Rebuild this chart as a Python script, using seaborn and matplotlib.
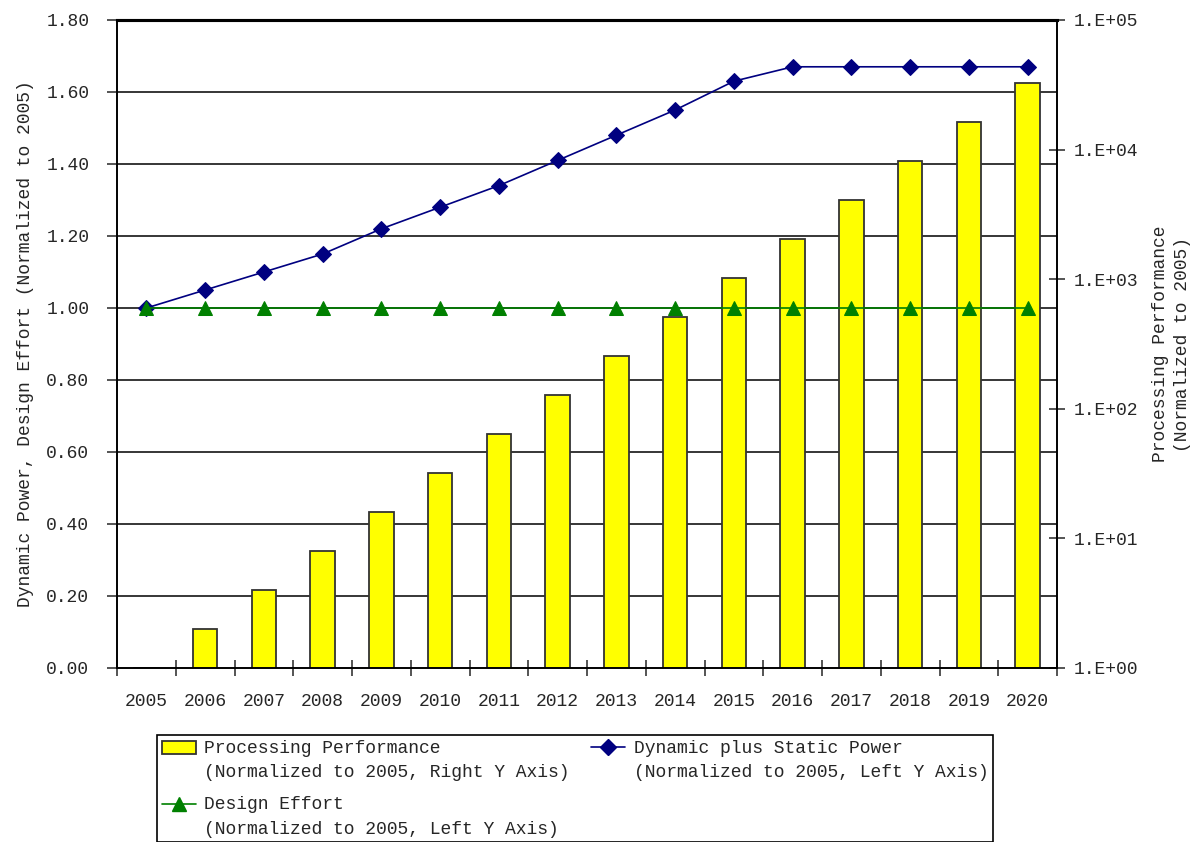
import matplotlib.pyplot as plt
import matplotlib.ticker as mticker
import matplotlib.transforms as mtransforms
from matplotlib.legend_handler import HandlerLine2D, HandlerPatch
from matplotlib.lines import Line2D
from matplotlib.patches import Patch
import numpy as np
import seaborn as sns

# ---------------- data ----------------
years = ['2005', '2006', '2007', '2008', '2009', '2010', '2011', '2012',
         '2013', '2014', '2015', '2016', '2017', '2018', '2019', '2020']
performance = [1, 2, 4, 8, 16, 32, 64, 128, 256, 512, 1024, 2048, 4096, 8192, 16384, 32768]
power = [1.00, 1.05, 1.10, 1.15, 1.22, 1.28, 1.34, 1.41, 1.48, 1.55, 1.63, 1.67, 1.67, 1.67, 1.67, 1.67]
effort = [1.00, 1.00, 1.00, 1.00, 1.00, 1.00, 1.00, 1.00, 1.00, 1.00, 1.00, 1.00, 1.00, 1.00, 1.00, 1.00]
left_ticks = [0.0, 0.2, 0.4, 0.6, 0.8, 1.0, 1.2, 1.4, 1.6, 1.8]
right_ticks = [1, 10, 100, 1000, 10000, 100000]

label_perf = "Processing Performance\n(Normalized to 2005, Right Y Axis)"
label_power = "Dynamic plus Static Power\n(Normalized to 2005, Left Y Axis)"
label_effort = "Design Effort\n(Normalized to 2005, Left Y Axis)"


# legend handles sit next to the first line of the two-line labels
class FirstLinePatch(HandlerPatch):
    def create_artists(self, legend, orig_handle, xdescent, ydescent, width, height, fontsize, trans):
        return super().create_artists(legend, orig_handle, xdescent, ydescent - 0.72 * fontsize,
                                      width, height, fontsize, trans)


class FirstLineLine(HandlerLine2D):
    def create_artists(self, legend, orig_handle, xdescent, ydescent, width, height, fontsize, trans):
        return super().create_artists(legend, orig_handle, xdescent, ydescent - 1.44 * fontsize,
                                      width, height, fontsize, trans)


sns.set_style("ticks")
plt.rcParams['font.family'] = ['Liberation Mono', 'DejaVu Sans']
fs = 13

W, H = 1194, 842
fig = plt.figure(figsize=(W / 100, H / 100), dpi=100)
ax_bar = fig.add_axes([117 / W, 1 - 668 / H, 940 / W, 648 / H])
ax_bar.set_yscale('log')

# bars (right, log axis)
sns.barplot(x=years, y=performance, color='#FFFF00', saturation=1, edgecolor='#333333',
            linewidth=1.3, width=0.42, errorbar=None, ax=ax_bar, zorder=2)
ax_bar.set_ylim(1, 1e5)
ax_bar.set_xlim(-0.5, len(years) - 0.5)

# lines (left, linear axis) on a twin drawn above the bars
ax_line = ax_bar.twinx()
ax_line.set_ylim(0, 1.8)
pos = np.arange(len(years))
sns.lineplot(x=pos, y=power, color='#000080', linewidth=1.2, marker='D', markersize=8,
             markeredgecolor='#000080', ax=ax_line)
sns.lineplot(x=pos, y=effort, color='#008000', linewidth=1.2, marker='^', markersize=10,
             markeredgecolor='#008000', ax=ax_line)
if ax_line.get_legend() is not None:
    ax_line.get_legend().remove()

# horizontal grid of the left axis, drawn behind the bars
blend = mtransforms.blended_transform_factory(ax_bar.transAxes, ax_line.transData)
for v in left_ticks[1:-1]:
    ax_bar.plot([0, 1], [v, v], transform=blend, color='black', linewidth=1.1, zorder=0.5)

# swap sides: linear axis left, log axis right
ax_line.yaxis.tick_left()
ax_line.yaxis.set_label_position('left')
ax_bar.yaxis.tick_right()
ax_bar.yaxis.set_label_position('right')

ax_line.set_yticks(left_ticks)
ax_line.yaxis.set_major_formatter(mticker.FormatStrFormatter('%.2f'))
ax_line.tick_params(axis='y', direction='out', length=7, width=1.1, pad=13, labelsize=fs)

ax_bar.set_yticks(right_ticks)
ax_bar.yaxis.set_minor_locator(mticker.NullLocator())
ax_bar.yaxis.set_major_formatter(mticker.FuncFormatter(lambda v, p: f"1.E+{int(round(np.log10(v))):02d}"))
ax_bar.tick_params(axis='y', which='major', direction='inout', length=12, width=1.1, pad=6,
                   labelsize=fs, left=False, right=True)

# x ticks: labels at the centres, tick marks at the boundaries
ax_bar.set_xticks(pos)
ax_bar.set_xticklabels(years)
ax_bar.xaxis.set_minor_locator(mticker.FixedLocator(np.arange(-0.5, len(years), 1.0)))
ax_bar.tick_params(axis='x', which='major', length=0, pad=18, labelsize=fs)
ax_bar.tick_params(axis='x', which='minor', direction='inout', length=12, width=1.1)
ax_bar.set_xlabel('')

for a in (ax_bar, ax_line):
    for s in a.spines.values():
        s.set_linewidth(1.2)
        s.set_color('black')
    a.spines['top'].set_linewidth(2.2)

ax_line.set_ylabel("Dynamic Power, Design Effort (Normalized to 2005)", fontsize=fs, labelpad=9)
ax_bar.set_ylabel("Processing Performance\n(Normalized to 2005)", fontsize=fs, rotation=90,
                  labelpad=10, linespacing=1.4)

bar_handle = Patch(facecolor='#FFFF00', edgecolor='#333333', linewidth=1.3)
effort_handle = Line2D([], [], color='#008000', marker='^', markersize=10, linewidth=1.2)
power_handle = Line2D([], [], color='#000080', marker='D', markersize=8, linewidth=1.2)
leg = fig.legend([bar_handle, effort_handle, power_handle], [label_perf, label_effort, label_power],
                 loc='upper left', bbox_to_anchor=(157 / W, 1 - 735 / H),
                 ncol=2, fontsize=fs, frameon=True, fancybox=False, framealpha=1,
                 edgecolor='black', handlelength=1.9, handletextpad=0.45, columnspacing=1.2,
                 labelspacing=0.85, borderpad=0.25, borderaxespad=0,
                 handler_map={Patch: FirstLinePatch(), Line2D: FirstLineLine()})
leg.get_frame().set_linewidth(1.2)
for t in leg.get_texts():
    t.set_linespacing(1.58)

fig.savefig('out.png', dpi=100)
